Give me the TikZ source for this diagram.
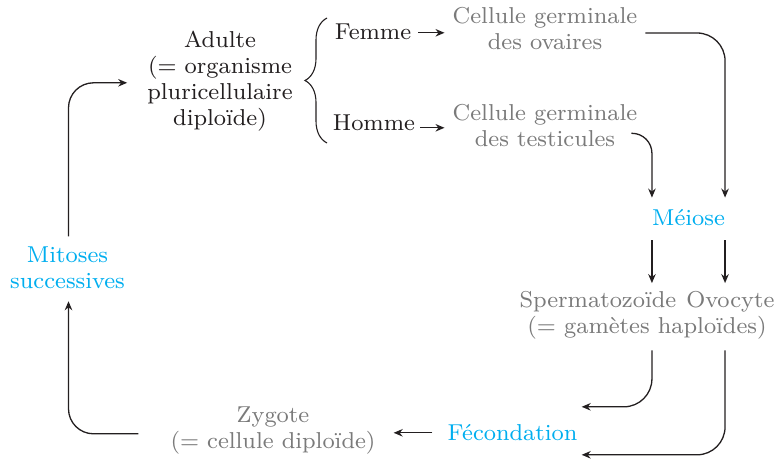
\documentclass[tikz,border=0pt]{standalone}
\usepackage{fontspec}
\newfontfamily\cent{lmroman8-regular.otf}
\usetikzlibrary{arrows.meta,calc,decorations.pathreplacing}
\definecolor{ink}{RGB}{35,31,32}
\definecolor{gris}{RGB}{122,122,122}
\definecolor{cyanb}{RGB}{0,174,239}
\begin{document}
\begin{tikzpicture}[x=1pt,y=-1pt,
  txt/.style={inner sep=0pt, align=center, font=\cent\fontsize{23}{26}\selectfont,
    execute at begin node=\strut, execute at end node=\strut},
  blk/.style={txt, text=ink},
  gry/.style={txt, text=gris},
  cy/.style={txt, text=cyanb},
  arr/.style={draw=ink, line width=1.3pt, -{Stealth[length=9pt,width=7.5pt]}},
  rc/.style={rounded corners=#1}]
\useasboundingbox (0,0) rectangle (784,460);
% nodes
\node[blk] (adulte) at (220,81.8) {Adulte\\(= organisme\\pluricellulaire\\diploïde)};
\node[blk] (femme) at (373,34.8) {Femme};
\node[blk] (homme) at (374,124.8) {Homme};
\node[gry] (ov) at (545,32.3) {Cellule germinale\\des ovaires};
\node[gry] (ts) at (545,129.3) {Cellule germinale\\des testicules};
\node[cy] (meiose) at (688.5,219.8) {Méiose};
\node[gry] (gam) at (647,316.3) {Spermatozoïde\hspace{10pt}Ovocyte\\(= gamètes haploïdes)};
\node[cy] (fec) at (512.5,434.8) {Fécondation};
\node[gry] (zyg) at (273,431.3) {Zygote\\(= cellule diploïde)};
\node[cy] (mit) at (67.5,271.3) {Mitoses\\successives};
% brace
\coordinate (bt) at (327,18);
\coordinate (bb) at (327,143);
\draw[ink, line width=1.1pt, decorate, decoration={brace, amplitude=22pt}] (bb) -- (bt);
% connectors
\draw[arr] ($(femme.east)+(7,-2)$) -- ($(ov.west |- femme.east)+(-8,-2)$);
\draw[arr] ($(homme.east)+(5,3)$) -- ($(ts.west |- homme.east)+(-8,3)$);
\draw[arr, rc=28] ($(ov.east)+(8,0.7)$) -| ($(meiose.north east)+(0,-9)$);
\draw[arr, rc=20] ($(ts.east)+(-6,4)$) -| ($(meiose.north west)+(0,-9)$);
\draw[arr] ($(meiose.south west)+(0,7)$) -- ($(meiose.south west |- gam.north)+(0,-8)$);
\draw[arr] ($(meiose.south east)+(0,7)$) -- ($(meiose.south east |- gam.north)+(0,-8)$);
\draw[arr, rc=28] ($(meiose.south west |- gam.south)+(0,9)$) |- ($(fec.east)+(4,-28)$);
\draw[arr, rc=28] ($(meiose.south east |- gam.south)+(0,9)$) |- ($(fec.east)+(4,20)$);
\draw[arr] ($(fec.west)+(-15,-2)$) -- ($(zyg.east |- fec.west)+(18,-2)$);
\draw[arr, rc=25] ($(zyg.west)+(-32,2.5)$) -| ($(mit.south)+(1,5)$);
\draw[arr, rc=25] ($(mit.north)+(1,-10)$) |- ($(adulte.west)+(-20,1)$);
\end{tikzpicture}
\end{document}
